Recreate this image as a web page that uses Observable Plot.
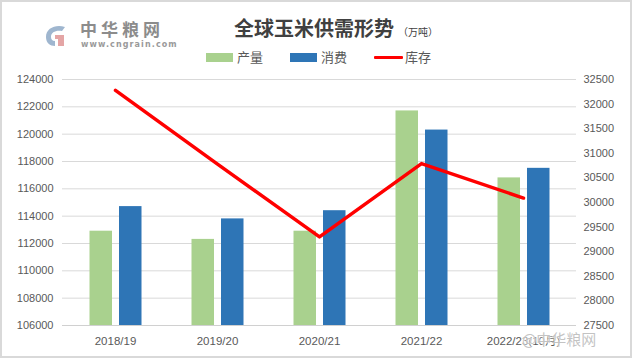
<!DOCTYPE html>
<html>
<head>
<meta charset="utf-8">
<script src="https://cdn.jsdelivr.net/npm/d3@7"></script>
<script src="https://cdn.jsdelivr.net/npm/@observablehq/plot@0.6"></script>
<style>
  html, body { margin: 0; padding: 0; background: #fff; }
  #wrap { position: relative; width: 632px; height: 361px; overflow: hidden; background: #fff; font-family: "Noto Sans CJK SC", "Liberation Sans", sans-serif; }
  #frame { position: absolute; left: 0; top: 0; width: 632px; height: 358px; box-sizing: border-box; border: 2px solid #d9d9d9; pointer-events: none; }
  #chart { position: absolute; left: 0; top: 0; }
  .abs { position: absolute; white-space: nowrap; }
  #title { left: 234px; top: 14px; font-size: 20px; font-weight: bold; color: #404040; line-height: 28px; }
  #title span { font-size: 10px; font-weight: normal; margin-left: 4px; }
  .sw { position: absolute; width: 27px; height: 9px; top: 53px; }
  .lg { position: absolute; top: 48px; font-size: 13px; color: #595959; line-height: 18px; }
  #logoText { left: 80px; top: 20px; font-size: 17px; font-weight: bold; color: #8c8c8c; letter-spacing: 4px; line-height: 17px; }
  #logoUrl { left: 81px; top: 40px; font-size: 8px; font-weight: bold; color: #9a9a9a; letter-spacing: 1.1px; font-family: "DejaVu Sans", sans-serif; line-height: 9px; }
  #wm { left: 522px; top: 331px; font-size: 15px; color: rgba(185,185,185,0.85); line-height: 15px; text-shadow: 0 0 2px #fff, 0 0 2px #fff; }
</style>
</head>
<body>
<div id="wrap">
  <div id="chart"></div>
  <div id="frame"></div>
  <svg class="abs" style="left:44px;top:24px" width="24" height="24" viewBox="0 0 24 24">
    <path d="M21 3 C12 0, 2 4, 2 13 C2 19, 6 22, 11 22 L11 17 C8 17, 7 15, 7 13 C7 8, 12 6, 18 7 Z" fill="#9fb6cf"/>
    <path d="M11 11 L20 11 L20 22 L14 22 L14 15 L11 15 Z" fill="#e4a5a5"/>
  </svg>
  <div id="logoText" class="abs">中华粮网</div>
  <div id="logoUrl" class="abs">www.cngrain.com</div>
  <div id="title" class="abs">全球玉米供需形势<span>（万吨）</span></div>
  <div class="sw" style="left:206px;background:#a9d18e"></div>
  <div class="lg" style="left:237px">产量</div>
  <div class="sw" style="left:290px;background:#2e75b6"></div>
  <div class="lg" style="left:321px">消费</div>
  <div class="abs" style="left:374px;top:56px;width:29px;height:3px;background:#ff0000;border-radius:1px"></div>
  <div class="lg" style="left:405px">库存</div>
  <div id="wm" class="abs">@中华粮网</div>
</div>
<script>
const categories = ["2018/19", "2019/20", "2020/21", "2021/22", "2022/23(10月)"];
const production = [112900, 112300, 112900, 121700, 116800];
const consumption = [114700, 113800, 114400, 120300, 117500];
const stocks = [32280, 30780, 29300, 30790, 30090];
const leftTicks = [106000, 108000, 110000, 112000, 114000, 116000, 118000, 120000, 122000, 124000];
const rightTicks = [27500, 28000, 28500, 29000, 29500, 30000, 30500, 31000, 31500, 32000, 32500];

const L0 = 106000, L1 = 124000, R0 = 27500, R1 = 32500;
const toLeft = v => L0 + (v - R0) * (L1 - L0) / (R1 - R0);
const fromLeft = y => R0 + (y - L0) * (R1 - R0) / (L1 - L0);

const prodData = categories.map((c, i) => ({cat: c, v: production[i]}));
const consData = categories.map((c, i) => ({cat: c, v: consumption[i]}));
const stockData = categories.map((c, i) => ({cat: c, v: stocks[i]}));

const chart = Plot.plot({
  width: 632,
  height: 361,
  marginLeft: 62,
  marginRight: 56,
  marginTop: 79,
  marginBottom: 36,
  x: {domain: categories, padding: 0, axis: null},
  y: {domain: [L0, L1], axis: null},
  style: {fontFamily: "'Liberation Sans', 'Noto Sans CJK SC', sans-serif", fontSize: "11px", color: "#595959", background: "transparent"},
  marks: [
    Plot.gridY(leftTicks, {stroke: "#d9d9d9", strokeOpacity: 1}),
    Plot.ruleY([L0], {stroke: "#d0d0d0", strokeWidth: 1.2}),
    Plot.barY(prodData, {x: "cat", y1: L0, y2: "v", fill: "#a9d18e", insetLeft: 25.5, insetRight: 54}),
    Plot.barY(consData, {x: "cat", y1: L0, y2: "v", fill: "#2e75b6", insetLeft: 55, insetRight: 24.5}),
    Plot.lineY(stockData, {x: "cat", y: d => toLeft(d.v), stroke: "#ff0000", strokeWidth: 3.5, strokeLinejoin: "round"}),
    Plot.axisY(leftTicks, {anchor: "left", tickSize: 0, tickPadding: 9, label: null, tickFormat: d => String(d)}),
    Plot.axisY(rightTicks.map(toLeft), {anchor: "right", tickSize: 0, tickPadding: 7, label: null, tickFormat: d => String(Math.round(fromLeft(d)))}),
    Plot.axisX(categories, {anchor: "bottom", tickSize: 0, tickPadding: 11, label: null, fontSize: 11.5})
  ]
});
document.getElementById("chart").appendChild(chart);
</script>
</body>
</html>
